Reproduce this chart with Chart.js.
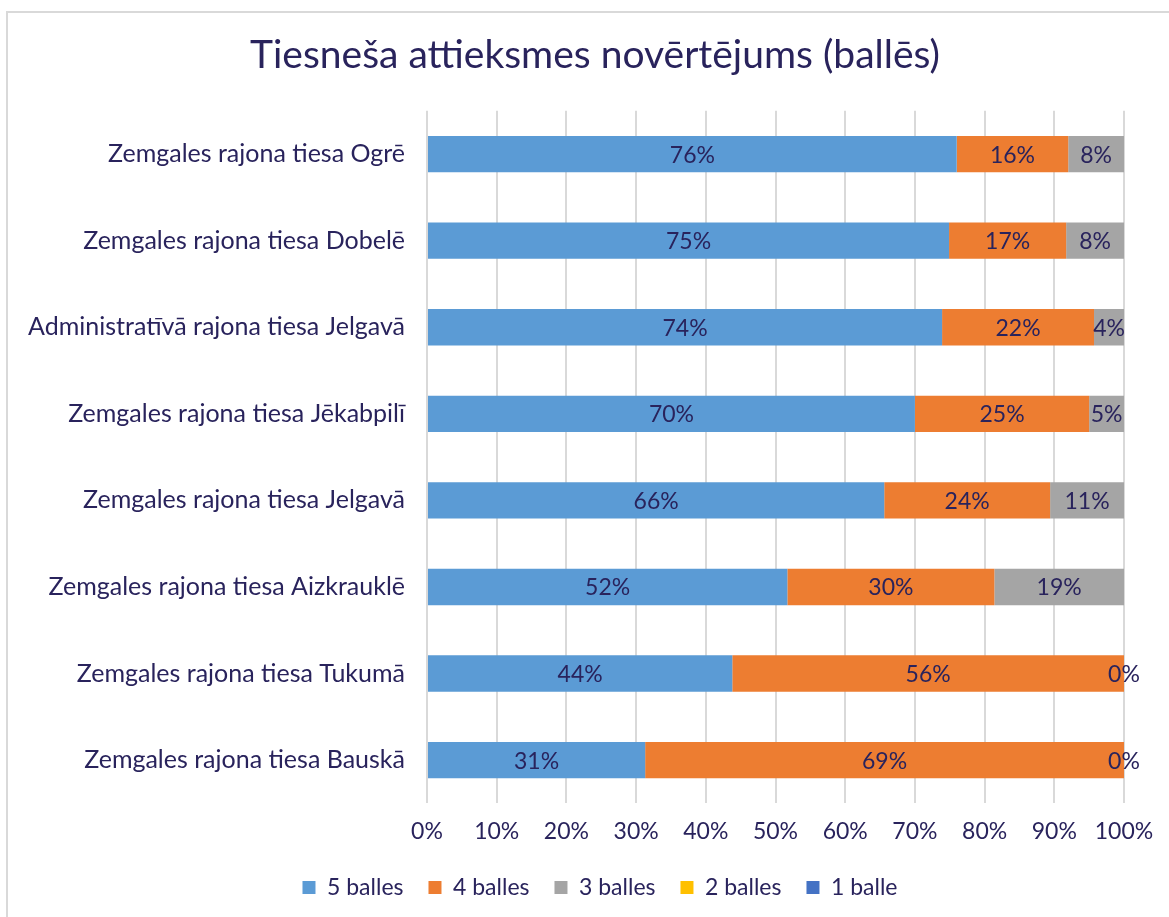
<!DOCTYPE html>
<html>
<head>
<meta charset="utf-8">
<script src="https://cdn.jsdelivr.net/npm/chart.js@4.4.1/dist/chart.umd.min.js"></script>
<style>
  html, body { margin: 0; padding: 0; background: #fff; }
  #wrap { position: relative; width: 1169px; height: 917px; }
  #frame { position: absolute; left: 6px; top: 11px; right: -10px; bottom: -10px;
           border-left: 2px solid #d9d9d9; border-top: 2px solid #d9d9d9; pointer-events: none; }
  canvas { position: absolute; left: 0; top: 0; }
</style>
</head>
<body>
<div id="wrap">
  <canvas id="c" width="1169" height="917"></canvas>
  <div id="frame"></div>
</div>
<script>
const titleText = 'Tiesneša attieksmes novērtējums (ballēs)';
const categories = [
  'Zemgales rajona tiesa Ogrē',
  'Zemgales rajona tiesa Dobelē',
  'Administratīvā rajona tiesa Jelgavā',
  'Zemgales rajona tiesa Jēkabpilī',
  'Zemgales rajona tiesa Jelgavā',
  'Zemgales rajona tiesa Aizkrauklē',
  'Zemgales rajona tiesa Tukumā',
  'Zemgales rajona tiesa Bauskā'
];
const seriesNames = ['5 balles', '4 balles', '3 balles', '2 balles', '1 balle'];
const balles5 = [76, 74.9, 73.9, 70, 65.6, 51.7, 43.8, 31.3];
const balles4 = [16, 16.8, 21.8, 25, 23.8, 29.7, 56.2, 68.7];
const balles3 = [8, 8.3, 4.3, 5, 10.6, 18.6, 0, 0];
const balles2 = [null, null, null, null, null, null, null, null];
const balles1 = [null, null, null, null, null, null, null, null];
const xTicks = [0, 10, 20, 30, 40, 50, 60, 70, 80, 90, 100];

const seriesValues = [balles5, balles4, balles3, balles2, balles1];
const colors = ['#5b9bd5', '#ed7d31', '#a5a5a5', '#ffc000', '#4472c4'];
const textColor = '#29235c';
const FONT = 'Lato';

const labelPlugin = {
  id: 'barLabels',
  afterDatasetsDraw(chart) {
    const ctx = chart.ctx;
    ctx.save();
    ctx.font = '23px ' + FONT;
    ctx.fillStyle = textColor;
    ctx.textAlign = 'center';
    ctx.textBaseline = 'middle';
    chart.data.datasets.forEach((ds, di) => {
      const meta = chart.getDatasetMeta(di);
      if (meta.hidden) return;
      meta.data.forEach((bar, i) => {
        const v = ds.data[i];
        if (v === null || v === undefined) return;
        const p = bar.getProps(['x', 'y', 'base'], true);
        const cx = (p.x + p.base) / 2;
        ctx.fillText(Math.round(v) + '%', cx, p.y + 1);
      });
    });
    ctx.restore();
  }
};

// shift title and legend so they are centred on the whole figure
const shiftPlugin = {
  id: 'shiftBlocks',
  afterLayout(chart) {
    const t = chart.titleBlock;
    if (t) { t.left += 33; t.right += 33; }
    const l = chart.legend;
    if (l) { l.left += 38; l.right += 38; l.top -= 8; l.bottom -= 8; }
  }
};

new Chart(document.getElementById('c'), {
  type: 'bar',
  data: {
    labels: categories,
    datasets: seriesNames.map((n, k) => ({
      label: n,
      data: seriesValues[k],
      backgroundColor: colors[k],
      borderWidth: 0,
      barPercentage: 0.42,
      categoryPercentage: 1.0
    }))
  },
  options: {
    indexAxis: 'y',
    responsive: false,
    animation: false,
    layout: { padding: { left: 0, right: 45, top: 0, bottom: 0 } },
    scales: {
      x: {
        stacked: true,
        min: 0, max: 100,
        afterBuildTicks(scale) { scale.ticks = xTicks.map(v => ({ value: v })); },
        ticks: {
          callback: v => v + '%',
          color: textColor,
          font: { family: FONT, size: 23 },
          padding: 14,
          maxRotation: 0
        },
        grid: { color: '#d9d9d9', lineWidth: 2, drawTicks: false },
        border: { display: false }
      },
      y: {
        stacked: true,
        afterFit(scale) { scale.width = 427; },
        ticks: {
          color: textColor,
          font: { family: FONT, size: 25 },
          padding: 22
        },
        grid: { display: false, drawTicks: false },
        border: { display: false }
      }
    },
    plugins: {
      title: {
        display: true,
        text: titleText,
        color: textColor,
        font: { family: FONT, size: 39, weight: 'normal' },
        padding: { top: 32, bottom: 32 }
      },
      legend: {
        position: 'bottom',
        labels: {
          color: textColor,
          font: { family: FONT, size: 23 },
          boxWidth: 13,
          boxHeight: 13,
          padding: 25
        }
      },
      tooltip: { enabled: false }
    }
  },
  plugins: [labelPlugin, shiftPlugin, {
    id: 'bg',
    beforeDraw(chart) {
      const ctx = chart.ctx;
      ctx.save();
      ctx.fillStyle = '#fff';
      ctx.fillRect(0, 0, chart.width, chart.height);
      ctx.restore();
    }
  }]
});
</script>
</body>
</html>
